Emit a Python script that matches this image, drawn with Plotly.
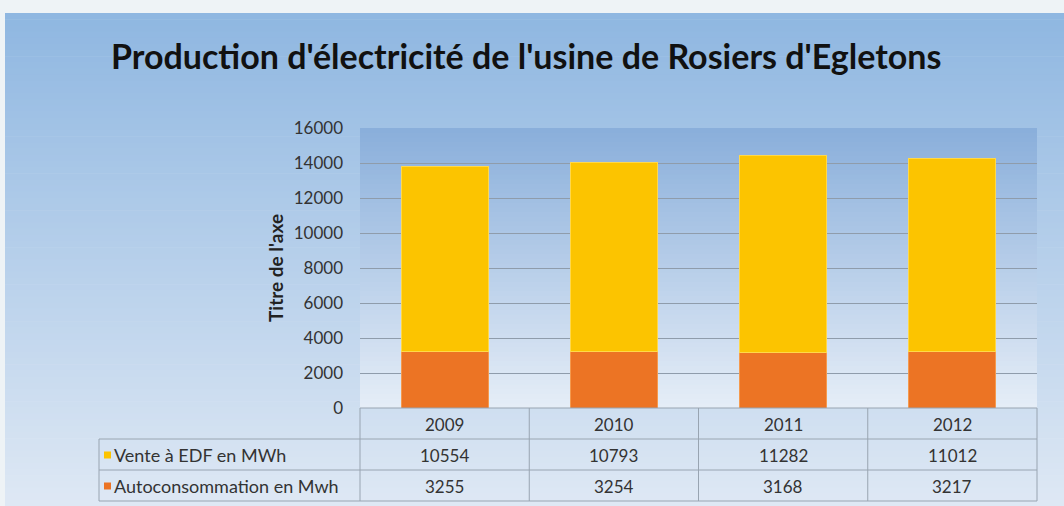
import plotly.graph_objects as go

years = ["2009", "2010", "2011", "2012"]
vente = [10554, 10793, 11282, 11012]
autoconso = [3255, 3254, 3168, 3217]
series_names = ["Vente à EDF en MWh", "Autoconsommation en Mwh"]
title_text = "Production d'électricité de l'usine de Rosiers d'Egletons"
yaxis_title = "Titre de l'axe"

W, H = 1064, 506
PL, PR, PT, PB = 360, 1037, 128, 408
FONT = "Lato, Open Sans, sans-serif"

def px(x):
    return (x - PL) / (PR - PL)

def py(y):
    return (PB - y) / (PB - PT)

def lerp(c1, c2, t):
    return "rgb(%d,%d,%d)" % tuple(round(a + (b - a) * t) for a, b in zip(c1, c2))

shapes = []

def gradient(x0, x1, y0, y1, ctop, cbot, n=60):
    h = (y1 - y0) / n
    for i in range(n):
        ya = y0 + i * h
        yb = ya + h + 0.6
        shapes.append(dict(type="rect", xref="paper", yref="paper", layer="below",
                           x0=px(x0), x1=px(x1), y0=py(ya), y1=py(min(yb, y1)),
                           line=dict(width=0), fillcolor=lerp(ctop, cbot, i / (n - 1))))

# outer panel
gradient(5, W, 13, H, (143, 183, 225), (222, 232, 244), n=80)
# plot area
gradient(PL, PR, PT, PB, (138, 175, 219), (229, 237, 247), n=60)

line_col = "#98a4b1"
def hline(x0, x1, y):
    shapes.append(dict(type="line", xref="paper", yref="paper", layer="above",
                       x0=px(x0), x1=px(x1), y0=py(y), y1=py(y), line=dict(color=line_col, width=1)))
def vline(x, y0, y1):
    shapes.append(dict(type="line", xref="paper", yref="paper", layer="above",
                       x0=px(x), x1=px(x), y0=py(y0), y1=py(y1), line=dict(color=line_col, width=1)))

T_LEFT = 99
row_tops = [408, 439, 470, 501]
col_w = (PR - PL) / len(years)
hline(PL, PR, 408)
for y in row_tops[1:]:
    hline(T_LEFT, PR, y)
vline(T_LEFT, 439, 501)
for i in range(len(years) + 1):
    vline(PL + i * col_w, 408, 501)

annotations = []
tf = dict(family=FONT, size=17, color="#333333")
for i, yr in enumerate(years):
    cx = px(PL + (i + 0.5) * col_w)
    annotations.append(dict(x=cx, y=py(424), xref="paper", yref="paper", text=yr,
                            showarrow=False, font=tf, xanchor="center", yanchor="middle"))
    annotations.append(dict(x=cx, y=py(455), xref="paper", yref="paper", text=str(vente[i]),
                            showarrow=False, font=tf, xanchor="center", yanchor="middle"))
    annotations.append(dict(x=cx, y=py(486), xref="paper", yref="paper", text=str(autoconso[i]),
                            showarrow=False, font=tf, xanchor="center", yanchor="middle"))

key_cols = ["#fcc400", "#ec7424"]
lf = dict(family=FONT, size=18, color="#333333")
for j, (name, yc) in enumerate(zip(series_names, [455, 486])):
    shapes.append(dict(type="rect", xref="paper", yref="paper", layer="above",
                       x0=px(104), x1=px(111), y0=py(yc - 3.5), y1=py(yc + 3.5),
                       line=dict(width=0), fillcolor=key_cols[j]))
    annotations.append(dict(x=px(112), y=py(yc), xref="paper", yref="paper", text=name,
                            showarrow=False, font=lf, xanchor="left", yanchor="middle"))

annotations.append(dict(x=px(275), y=py(268), xref="paper", yref="paper", text="<b>" + yaxis_title + "</b>",
                        showarrow=False, textangle=-90,
                        font=dict(family=FONT, size=19, color="#222222"),
                        xanchor="center", yanchor="middle"))
annotations.append(dict(x=px(526), y=py(55), xref="paper", yref="paper", text="<b>" + title_text + "</b>",
                        showarrow=False,
                        font=dict(family=FONT, size=34, color="#111111"),
                        xanchor="center", yanchor="middle"))

fig = go.Figure()
fig.add_trace(go.Bar(x=years, y=autoconso, name=series_names[1],
                     marker=dict(color="#ec7424", line=dict(color="#f59a4e", width=1))))
fig.add_trace(go.Bar(x=years, y=vente, name=series_names[0],
                     marker=dict(color="#fcc400", line=dict(color="#ffd84a", width=1))))

fig.update_layout(
    width=W, height=H, barmode="stack", bargap=0.485, showlegend=False,
    margin=dict(l=PL, r=W - PR, t=PT, b=H - PB, pad=0),
    paper_bgcolor="#eef3f6", plot_bgcolor="rgba(0,0,0,0)",
    shapes=shapes, annotations=annotations,
    xaxis=dict(showticklabels=False, showgrid=False, zeroline=False, showline=False, ticks=""),
    yaxis=dict(range=[0, 16000], dtick=2000, tickformat="d", showgrid=True, gridcolor="#8f9cab", gridwidth=1,
               zeroline=False, showline=False, ticks="", ticklabelstandoff=16,
               tickfont=dict(family=FONT, size=17, color="#333333")),
)
fig.write_html("out.html", config={"displayModeBar": False},
               post_script="document.body.style.margin='0';document.body.style.overflow='hidden';")
